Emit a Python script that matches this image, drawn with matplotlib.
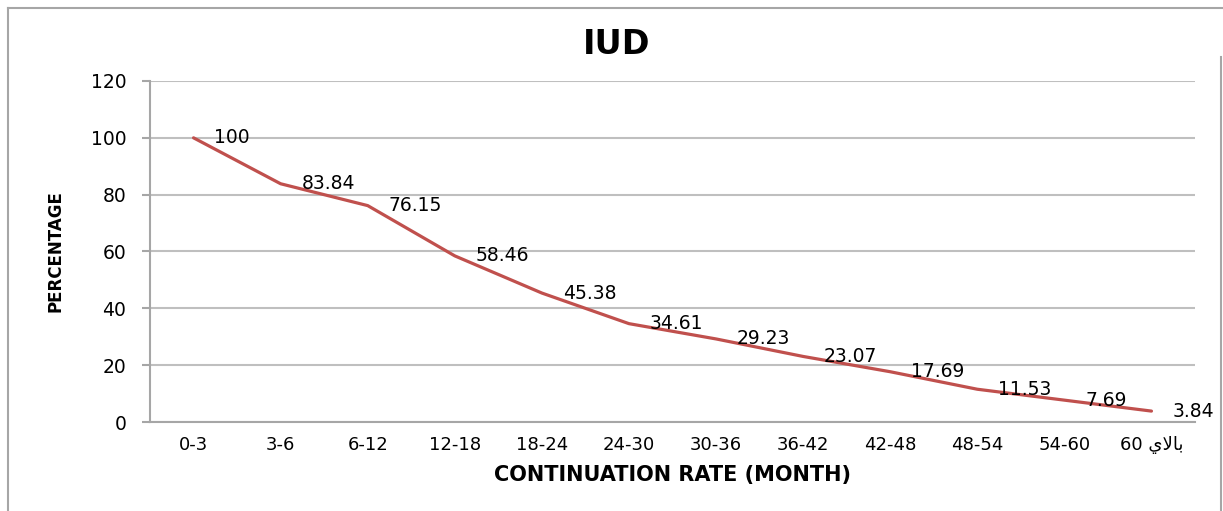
import matplotlib
matplotlib.use("Agg")
import matplotlib.pyplot as plt
from matplotlib.lines import Line2D

# last label is "بالاي 60"; matplotlib has no bidi/shaping, so the
# glyphs are given already shaped and in visual (left-to-right) order
over_60 = "60 " + "\uFEF1\uFEFB\uFE8E\uFE91"

categories = ["0-3", "3-6", "6-12", "12-18", "18-24", "24-30", "30-36",
              "36-42", "42-48", "48-54", "54-60", over_60]
values = [100, 83.84, 76.15, 58.46, 45.38, 34.61, 29.23, 23.07, 17.69,
          11.53, 7.69, 3.84]
y_ticks = [0, 20, 40, 60, 80, 100, 120]

line_color = "#C0504D"
grid_color = "#BFBFBF"
axis_color = "#A6A6A6"

plt.rcParams["font.family"] = ["DejaVu Sans"]

fig = plt.figure(figsize=(12.23, 5.11), dpi=100)
ax = fig.add_axes([150 / 1223, 89 / 511, 1045 / 1223, 341 / 511])

x = list(range(len(categories)))
ax.plot(x, values, color=line_color, linewidth=2.3, solid_capstyle="round")

for xi, v in zip(x, values):
    ax.annotate(f"{v:g}", (xi, v), xytext=(15, 0), textcoords="offset points",
                ha="left", va="center", fontsize=13.5, color="black")

ax.set_xlim(-0.5, len(categories) - 0.5)
ax.set_ylim(0, 120)
ax.set_yticks(y_ticks)
ax.set_xticks(x)
ax.set_xticklabels(categories, fontsize=13)
ax.tick_params(axis="y", labelsize=13.5, length=6, width=1.5,
               color=axis_color, pad=11)
ax.tick_params(axis="x", length=0, pad=10)

ax.grid(axis="y", color=grid_color, linewidth=1.5)
ax.set_axisbelow(True)
for side in ["top", "right"]:
    ax.spines[side].set_visible(False)
for side in ["left", "bottom"]:
    ax.spines[side].set_color(axis_color)
    ax.spines[side].set_linewidth(1.5)

ax.set_xlabel("CONTINUATION RATE (MONTH)", fontsize=15, fontweight="bold",
              labelpad=8)
ax.set_ylabel("PERCENTAGE", fontsize=12, fontweight="bold")
ax.yaxis.set_label_coords(-0.09, 0.5)
ax.yaxis.label.set_va("center")

fig.text(617 / 1223, 1 - 45 / 511, "IUD", fontsize=24, fontweight="bold",
         ha="center", va="center")

# chart frame
frame_kw = dict(color=axis_color, linewidth=1.5, transform=fig.transFigure)
fig.add_artist(Line2D([8 / 1223, 8 / 1223], [0, 1 - 8 / 511], **frame_kw))
fig.add_artist(Line2D([8 / 1223, 1], [1 - 8 / 511, 1 - 8 / 511], **frame_kw))
fig.add_artist(Line2D([1221 / 1223, 1221 / 1223], [0, 1 - 57 / 511], **frame_kw))

fig.savefig("out.png", dpi=100)
